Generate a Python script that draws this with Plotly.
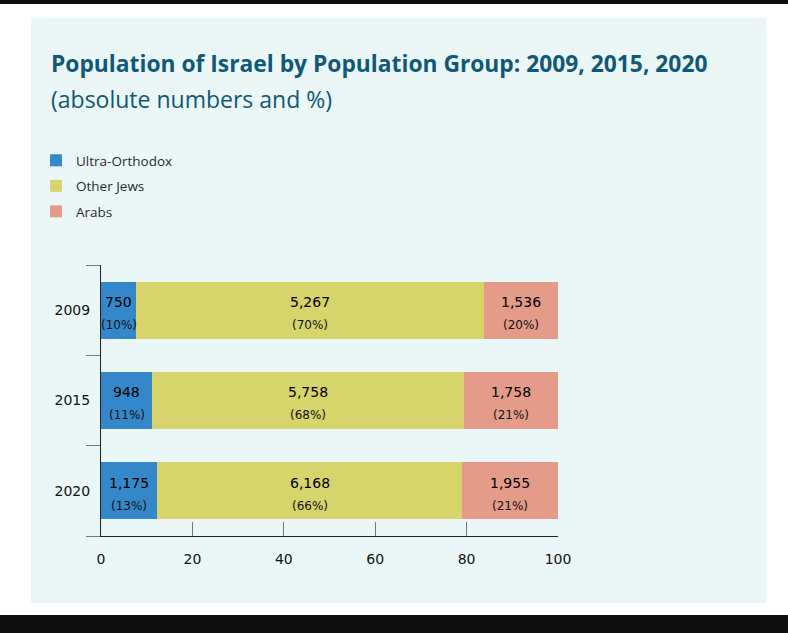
import plotly.graph_objects as go

# ---- data ----
years = ["2009", "2015", "2020"]
year_pos = [0, 1, 2]
groups = ["Ultra-Orthodox", "Other Jews", "Arabs"]
colors = ["#3488c9", "#d6d46a", "#e59b89"]
# bar lengths as drawn (percent of total)
bar_len = {
    "Ultra-Orthodox": [7.7, 11.2, 12.3],
    "Other Jews": [76.2, 68.2, 66.7],
    "Arabs": [16.1, 20.6, 21.0],
}
counts = {
    "Ultra-Orthodox": ["750", "948", "1,175"],
    "Other Jews": ["5,267", "5,758", "6,168"],
    "Arabs": ["1,536", "1,758", "1,955"],
}
pcts = {
    "Ultra-Orthodox": ["10%", "11%", "13%"],
    "Other Jews": ["70%", "68%", "66%"],
    "Arabs": ["20%", "21%", "21%"],
}
x_ticks = [0, 20, 40, 60, 80, 100]
y_bounds = [-0.5, 0.5, 1.5, 2.5]

W, H = 788, 633
def px(x):
    return x / W
def py(y):
    return 1 - y / H

fig = go.Figure()
for g, c in zip(groups, colors):
    fig.add_trace(go.Bar(
        y=year_pos, x=bar_len[g], name=g, orientation="h", width=0.63,
        marker=dict(color=c, line=dict(width=0)),
        legendgroup=g, hoverinfo="skip",
    ))

annots = []
for i, yp in enumerate(year_pos):
    start = 0
    for g in groups:
        L = bar_len[g][i]
        cx = start + L / 2
        annots.append(dict(x=cx, y=yp, xref="x", yref="y", text=counts[g][i],
                           showarrow=False, yshift=8,
                           font=dict(family="DejaVu Sans", size=14, color="#000")))
        annots.append(dict(x=cx, y=yp, xref="x", yref="y", text="(" + pcts[g][i] + ")",
                           showarrow=False, yshift=-15,
                           font=dict(family="DejaVu Sans", size=12, color="#111")))
        start += L

annots.append(dict(x=px(49), y=py(63), xref="paper", yref="paper", xanchor="left",
                   yanchor="middle", showarrow=False,
                   text="<b>Population of Israel by Population Group: 2009, 2015, 2020</b>",
                   font=dict(family="Open Sans", size=22.8, color="#0f5877")))
annots.append(dict(x=px(49), y=py(99), xref="paper", yref="paper", xanchor="left",
                   yanchor="middle", showarrow=False,
                   text="(absolute numbers and %)",
                   font=dict(family="Open Sans", size=23, color="#0f5877")))

shapes = [
    dict(type="rect", xref="paper", yref="paper", x0=px(31), x1=px(766), y0=py(603), y1=py(18),
         fillcolor="#ebf7f7", line=dict(width=0), layer="below"),
    dict(type="rect", xref="paper", yref="paper", x0=0, x1=1, y0=py(4), y1=1,
         fillcolor="#0e0e0e", line=dict(width=0), layer="below"),
    dict(type="rect", xref="paper", yref="paper", x0=0, x1=1, y0=0, y1=py(615),
         fillcolor="#0e0e0e", line=dict(width=0), layer="below"),
]

fig.update_layout(
    width=W, height=H,
    margin=dict(l=0, r=0, t=0, b=0, autoexpand=False),
    paper_bgcolor="white", plot_bgcolor="rgba(0,0,0,0)",
    barmode="stack",
    showlegend=True,
    legend=dict(x=px(36), y=py(145), xanchor="left", yanchor="top",
                bgcolor="rgba(0,0,0,0)", tracegroupgap=5,
                font=dict(family="Open Sans", size=13.5, color="#2a2a2a")),
    annotations=annots, shapes=shapes,
    xaxis=dict(domain=[px(101), px(558)], range=[0, 100], tickvals=x_ticks,
               ticks="inside", ticklen=14, tickcolor="#777", tickwidth=1,
               showline=True, linecolor="#222", linewidth=1, showgrid=False,
               zeroline=False, ticklabelstandoff=10, automargin=False,
               tickfont=dict(family="DejaVu Sans", size=14, color="#111")),
    yaxis=dict(domain=[py(536), py(265)], range=[2.5, -0.5],
               tickvals=year_pos, ticktext=years, ticks="",
               minor=dict(tickvals=y_bounds, ticks="outside", ticklen=14,
                          tickcolor="#777", tickwidth=1, showgrid=False),
               showline=True, linecolor="#222", linewidth=1, showgrid=False,
               zeroline=False, ticklabelstandoff=7, automargin=False,
               tickfont=dict(family="DejaVu Sans", size=14, color="#111")),
)

fig.write_html("out.html")
